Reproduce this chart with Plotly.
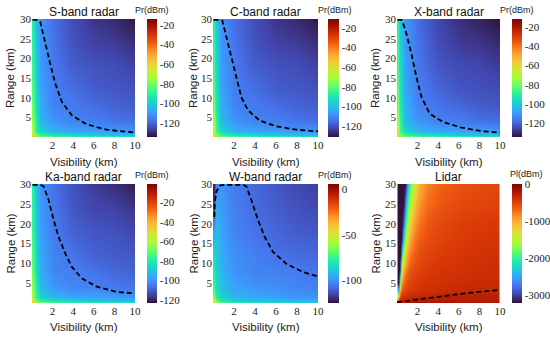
import plotly.graph_objects as go

# ---------------- data ----------------
vis_radar = [0.05, 0.3, 0.8, 2, 4, 6, 8, 10]          # km
rng_radar = [0.1, 0.6, 1.5, 4, 8, 12, 18, 24, 30]      # km

pr_s = [
    [-48, -68, -76, -80, -84, -86, -88, -91],
    [-62, -80, -88, -94, -98, -100, -102, -103],
    [-72, -86, -98, -105, -108, -109, -110, -111],
    [-76, -88, -104, -111, -114, -115, -117, -118],
    [-81, -92, -106, -114, -116, -118, -120, -121],
    [-84, -94, -108, -115, -118, -121, -122, -123],
    [-87, -97, -109, -116, -121, -123, -124, -126],
    [-89, -99, -110, -117, -123, -126, -127, -129],
    [-91, -101, -111, -118, -124, -128, -130, -133],
]
pr_c = [
    [-45, -65, -73, -77, -81, -83, -85, -88],
    [-59, -77, -85, -91, -95, -97, -99, -100],
    [-69, -83, -95, -102, -105, -106, -107, -108],
    [-73, -85, -101, -108, -111, -112, -114, -115],
    [-78, -89, -103, -111, -113, -115, -117, -118],
    [-81, -91, -105, -112, -115, -118, -119, -120],
    [-84, -94, -106, -113, -118, -120, -121, -123],
    [-86, -96, -107, -114, -120, -123, -124, -126],
    [-88, -98, -108, -115, -121, -125, -127, -130],
]
pr_x = [
    [-47, -67, -75, -79, -83, -85, -87, -90],
    [-61, -79, -87, -93, -97, -99, -101, -102],
    [-71, -85, -97, -104, -107, -108, -109, -110],
    [-75, -87, -103, -110, -114, -115, -117, -118],
    [-80, -91, -105, -114, -117, -119, -121, -122],
    [-83, -93, -107, -115, -119, -122, -123, -124],
    [-86, -96, -108, -116, -122, -124, -125, -127],
    [-88, -98, -109, -117, -124, -127, -128, -130],
    [-90, -100, -110, -118, -125, -129, -131, -134],
]
pr_ka = [
    [-36, -56, -64, -68, -72, -74, -76, -79],
    [-50, -68, -76, -82, -86, -88, -90, -91],
    [-60, -74, -86, -93, -96, -97, -98, -99],
    [-64, -76, -92, -99, -102, -103, -105, -106],
    [-69, -80, -94, -102, -104, -106, -108, -109],
    [-72, -82, -96, -103, -106, -109, -110, -111],
    [-75, -85, -97, -104, -109, -111, -112, -114],
    [-77, -87, -98, -105, -111, -114, -115, -117],
    [-79, -89, -99, -106, -112, -116, -118, -121],
]
pr_w = [
    [-30, -55, -66, -72, -76, -79, -81, -82],
    [-52, -68, -79, -86, -89, -91, -93, -94],
    [-66, -78, -86, -93, -96, -97, -99, -100],
    [-74, -83, -90, -97, -100, -101, -103, -104],
    [-79, -86, -93, -100, -103, -104, -105, -107],
    [-84, -88, -95, -101, -104, -107, -108, -109],
    [-97, -90, -96, -103, -107, -109, -111, -112],
    [-117, -95, -98, -104, -108, -111, -113, -115],
    [-122, -103, -100, -105, -109, -112, -115, -117],
]

vis_lidar = [0.1, 0.2, 0.3, 0.45, 0.6, 0.8, 1.0, 1.3, 1.7, 2.2, 3, 4.5, 6.5, 10]
rng_lidar = [0.1, 0.8, 2, 3, 5, 8, 12, 16, 20, 25, 30]
pl_lidar = [
    [-230, -190, -182, -180, -175, -170, -165, -160, -160, -160, -160, -160, -160, -160],
    [-560, -400, -350, -320, -300, -290, -280, -270, -260, -255, -250, -250, -250, -250],
    [-1500, -750, -563, -485, -443, -410, -390, -367, -347, -333, -313, -298, -291, -290],
    [-2400, -1130, -800, -623, -555, -510, -480, -452, -428, -408, -390, -363, -348, -340],
    [-3200, -1935, -1273, -865, -707, -601, -555, -514, -478, -451, -423, -395, -372, -350],
    [-3200, -3200, -2070, -1364, -1005, -800, -690, -597, -545, -506, -467, -429, -402, -375],
    [-3200, -3200, -3200, -2070, -1550, -1130, -920, -758, -642, -571, -520, -467, -432, -400],
    [-3200, -3200, -3200, -3150, -2070, -1550, -1210, -940, -770, -647, -567, -502, -458, -420],
    [-3200, -3200, -3200, -3200, -2840, -1935, -1550, -1160, -907, -755, -618, -535, -483, -450],
    [-3200, -3200, -3200, -3200, -3200, -2560, -1935, -1490, -1105, -883, -720, -600, -550, -500],
    [-3200, -3200, -3200, -3200, -3200, -3200, -2400, -1780, -1350, -1025, -810, -650, -580, -530],
]

# dashed threshold contours (visibility, range)
cont_s_v = [0.05, 0.6, 0.81, 1.29, 1.77, 2.26, 2.9, 3.87, 5.32, 7.26, 10]
cont_s_r = [29.8, 29.8, 29.2, 23.7, 18.6, 13.6, 8.9, 5.5, 3.2, 1.86, 1.1]
cont_c_v = [0.05, 0.7, 0.89, 1.27, 1.75, 2.22, 2.7, 3.33, 4.44, 6.03, 7.94, 10]
cont_c_r = [29.8, 29.8, 29.6, 25.4, 20.3, 15.2, 10.1, 6.8, 4.2, 2.7, 1.86, 1.42]
cont_x_v = [0.05, 0.45, 0.58, 0.91, 1.4, 1.88, 2.37, 3.18, 4.48, 6.27, 8.2, 10]
cont_x_r = [29.8, 29.8, 29.0, 26.3, 21.2, 15.3, 10.2, 5.9, 3.8, 2.4, 1.5, 1.1]
cont_ka_v = [0.05, 0.9, 1.13, 1.61, 2.1, 2.58, 3.23, 3.87, 4.84, 6.29, 8.23, 10]
cont_ka_r = [29.8, 29.7, 29.4, 26.0, 21.0, 16.7, 12.5, 9.1, 6.2, 4.1, 2.8, 2.4]
cont_w_v = [0.13, 0.16, 0.32, 0.63, 1.1, 2.86, 3.17, 3.65, 4.29, 4.92, 5.71, 6.98, 8.57, 10]
cont_w_r = [21.7, 25.1, 28.1, 29.6, 29.8, 29.8, 29.4, 26.0, 20.9, 16.7, 12.9, 9.9, 7.8, 6.7]
cont_l_v = [0, 1.77, 3.39, 5.0, 6.61, 8.23, 10]
cont_l_r = [0.2, 0.84, 1.43, 1.93, 2.44, 2.86, 3.28]

titles = ["S-band radar", "C-band radar", "X-band radar",
          "Ka-band radar", "W-band radar", "Lidar"]
cb_titles = ["Pr(dBm)", "Pr(dBm)", "Pr(dBm)", "Pr(dBm)", "Pr(dBm)", "Pl(dBm)"]
zranges = [(-134, -14), (-131, -11), (-134, -12), (-123, -1), (-125, 6), (-3200, 0)]
cb_ticks = [[-120, -100, -80, -60, -40, -20]] * 4 + [[-100, -50, 0], [-3000, -2000, -1000, 0]]
x_ticks = [2, 4, 6, 8, 10]
y_ticks = [5, 10, 15, 20, 25, 30]

fields = [(vis_radar, rng_radar, pr_s), (vis_radar, rng_radar, pr_c),
          (vis_radar, rng_radar, pr_x), (vis_radar, rng_radar, pr_ka),
          (vis_radar, rng_radar, pr_w), (vis_lidar, rng_lidar, pl_lidar)]
contours = [(cont_s_v, cont_s_r), (cont_c_v, cont_c_r), (cont_x_v, cont_x_r),
            (cont_ka_v, cont_ka_r), (cont_w_v, cont_w_r), (cont_l_v, cont_l_r)]

# ---------------- layout geometry (pixels) ----------------
W, H = 550, 340
cols_x = [(32, 135), (213, 318), (397, 500)]
rows_y = [(19, 137), (184, 303)]
cb_x = [147, 328, 512]
cb_w = [10, 11, 10]
rl_x = [10, 193, 375]
cbt_x = [[152, 335, 517], [152, 335, 526]]
cbt_y = [[10, 10, 10], [175, 175, 174]]
title_y = [12, 177]
vis_y = [162, 327]


def px(x):
    return x / W


def py(y):
    return 1 - y / H


serif = "Liberation Serif"
sans = "Liberation Sans"

fig = go.Figure()
annotations = []
layout = dict(width=W, height=H,
              margin=dict(l=0, r=0, t=0, b=0, pad=0, autoexpand=False),
              paper_bgcolor="white", plot_bgcolor="white", showlegend=False)

for i in range(6):
    r, c = divmod(i, 3)
    n = i + 1
    xa = "x" if n == 1 else f"x{n}"
    ya = "y" if n == 1 else f"y{n}"
    x0, x1 = cols_x[c]
    y0, y1 = rows_y[r]
    vx, vy, z = fields[i]
    zmin, zmax = zranges[i]
    ticks = cb_ticks[i]
    fig.add_trace(go.Heatmap(
        x=vx, y=vy, z=z, xaxis=xa, yaxis=ya,
        colorscale="Turbo", zmin=zmin, zmax=zmax, zsmooth="best",
        colorbar=dict(
            x=px(cb_x[c]), xanchor="left", xpad=0, ypad=0,
            y=py((y0 + y1) / 2), yanchor="middle",
            len=(y1 - y0) / H, lenmode="fraction",
            thickness=cb_w[c], thicknessmode="pixels",
            outlinewidth=0, ticks="", ticklen=2,
            tickvals=ticks, ticktext=[str(t) for t in ticks],
            tickfont=dict(family=serif, size=11, color="#222"),
        ),
        hoverinfo="skip",
    ))
    cv, cr = contours[i]
    fig.add_trace(go.Scatter(
        x=cv, y=cr, xaxis=xa, yaxis=ya, mode="lines",
        line=dict(color="black", width=1.8, dash="5px,3px"),
        hoverinfo="skip",
    ))
    axkey = "xaxis" if n == 1 else f"xaxis{n}"
    aykey = "yaxis" if n == 1 else f"yaxis{n}"
    layout[axkey] = dict(domain=[px(x0), px(x1)], anchor=ya, range=[0, 10],
                         tickvals=x_ticks, ticks="", showgrid=False, zeroline=False,
                         showline=False,
                         tickfont=dict(family=serif, size=11, color="#222"))
    layout[aykey] = dict(domain=[py(y1), py(y0)], anchor=xa, range=[0, 30],
                         tickvals=y_ticks, ticks="", showgrid=False, zeroline=False,
                         showline=False,
                         tickfont=dict(family=serif, size=11, color="#222"))
    annotations.append(dict(text=titles[i], x=px((x0 + x1) / 2), y=py(title_y[r]),
                            xref="paper", yref="paper", showarrow=False,
                            xanchor="center", yanchor="middle",
                            font=dict(family=sans, size=12, color="#111")))
    annotations.append(dict(text="Visibility (km)", x=px((x0 + x1) / 2), y=py(vis_y[r]),
                            xref="paper", yref="paper", showarrow=False,
                            xanchor="center", yanchor="middle",
                            font=dict(family=sans, size=11.5, color="#222")))
    annotations.append(dict(text="Range (km)", x=px(rl_x[c]), y=py((y0 + y1) / 2),
                            xref="paper", yref="paper", showarrow=False, textangle=-90,
                            xanchor="center", yanchor="middle",
                            font=dict(family=sans, size=11.5, color="#222")))
    annotations.append(dict(text=cb_titles[i], x=px(cbt_x[r][c]), y=py(cbt_y[r][c]),
                            xref="paper", yref="paper", showarrow=False,
                            xanchor="center", yanchor="middle",
                            font=dict(family=sans, size=9, color="#222")))

layout["annotations"] = annotations
fig.update_layout(**layout)
fig.write_html("out.html",
               config={"displayModeBar": False},
               post_script="document.body.style.margin='0';"
                           "document.body.style.overflow='hidden';")
